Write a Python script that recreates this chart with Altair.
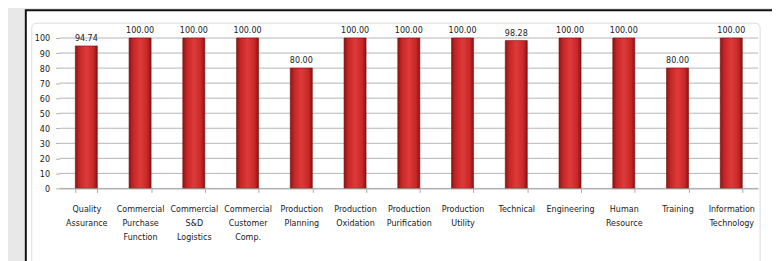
import altair as alt
import pandas as pd

categories = [
    "Quality|Assurance",
    "Commercial|Purchase|Function",
    "Commercial|S&D|Logistics",
    "Commercial|Customer|Comp.",
    "Production|Planning",
    "Production|Oxidation",
    "Production|Purification",
    "Production|Utility",
    "Technical",
    "Engineering",
    "Human|Resource",
    "Training",
    "Information|Technology",
]
values = [94.74, 100.00, 100.00, 100.00, 80.00, 100.00, 100.00, 100.00, 98.28, 100.00, 100.00, 80.00, 100.00]
y_ticks = [0, 10, 20, 30, 40, 50, 60, 70, 80, 90, 100]

df = pd.DataFrame({"dept": categories, "score": values})
grid_df = pd.DataFrame({"score": y_ticks})

W, H = 706, 152
FONT = "Liberation Sans Narrow, DejaVu Sans Condensed, sans-serif"

y_scale = alt.Scale(domain=[0, 100], nice=False)
y_axis = alt.Axis(
    title=None,
    values=y_ticks,
    labelFont=FONT,
    labelFontSize=9,
    labelColor="#1a1a1a",
    labelPadding=6,
    labelOverlap=False,
    labelFlush=False,
    tickSize=4,
    tickColor="#b0b0b0",
    grid=False,
    domain=False,
    zindex=1,
)

frame = alt.Chart(pd.DataFrame({"k": [0]})).mark_rect(
    fill="white", stroke="#111111", strokeWidth=2
).encode(
    x=alt.value(-34), x2=alt.value(740), y=alt.value(-28), y2=alt.value(240)
)

inner = alt.Chart(pd.DataFrame({"k": [0]})).mark_rect(
    fill="white", stroke="#dcdcdc", strokeWidth=1, cornerRadius=5
).encode(
    x=alt.value(-28), x2=alt.value(708), y=alt.value(-15), y2=alt.value(240)
)

gridlines = alt.Chart(grid_df).mark_rule(color="#b4b4b4", strokeWidth=1).encode(
    y=alt.Y("score:Q", scale=y_scale, axis=y_axis),
    x=alt.value(0),
    x2=alt.value(W),
)

grad = alt.Gradient(
    gradient="linear",
    x1=0, x2=1, y1=0, y2=0,
    stops=[
        alt.GradientStop(color="#8e1414", offset=0),
        alt.GradientStop(color="#c42626", offset=0.18),
        alt.GradientStop(color="#de3a3a", offset=0.5),
        alt.GradientStop(color="#c82828", offset=0.82),
        alt.GradientStop(color="#8a1212", offset=1),
    ],
)

x_enc = alt.X(
    "dept:N",
    sort=categories,
    scale=alt.Scale(paddingInner=0.59, paddingOuter=0.295),
    axis=alt.Axis(
        title=None,
        labelAngle=0,
        labelExpr="split(datum.label, '|')",
        labelFont=FONT,
        labelFontSize=9,
        labelColor="#1a1a1a",
        labelLineHeight=14.5,
        labelPadding=12,
        labelBaseline="top",
        labelOverlap=False,
        domainColor="#aaaaaa",
        tickColor="#aaaaaa",
        tickSize=4,
        tickBand="extent",
        grid=False,
        zindex=1,
    ),
)

bars = alt.Chart(df).mark_bar(
    color=grad, stroke="#7a1010", strokeWidth=0.6
).encode(x=x_enc, y=alt.Y("score:Q", scale=y_scale, axis=y_axis))

labels = alt.Chart(df).mark_text(
    baseline="bottom", dy=-3, font=FONT, fontSize=9, color="#1a1a1a"
).encode(
    x=alt.X("dept:N", sort=categories),
    y=alt.Y("score:Q", scale=y_scale, axis=y_axis),
    text=alt.Text("score:Q", format=".2f"),
)

chart = alt.layer(frame, inner, gridlines, bars, labels).properties(
    width=W,
    height=H,
    background="#e8e8e8",
    padding={"left": 52, "top": 29, "right": 14, "bottom": 72},
    autosize=alt.AutoSizeParams(type="none"),
).configure_view(stroke=None)

chart.save("out.html", embed_options={"renderer": "svg", "actions": False})
